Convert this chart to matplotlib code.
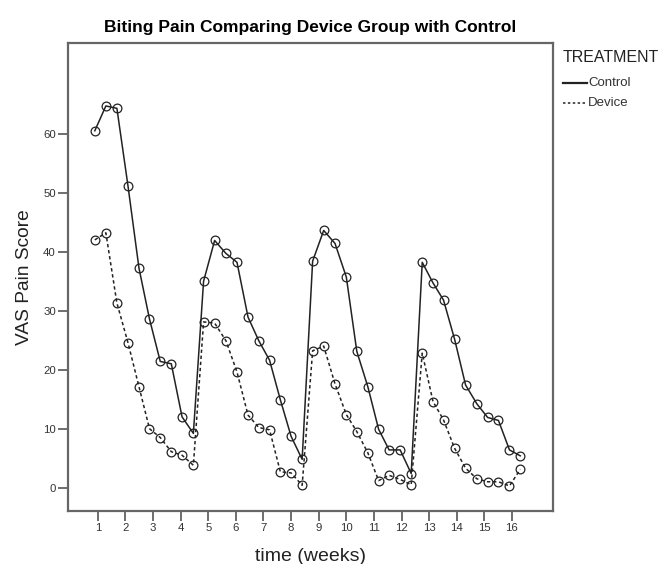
import matplotlib
matplotlib.use("Agg")
import matplotlib.pyplot as plt
from matplotlib.lines import Line2D

plt.rcParams["font.family"] = ["Liberation Sans", "DejaVu Sans"]

weeks = [0.89, 1.29, 1.69, 2.09, 2.49, 2.87, 3.26, 3.66, 4.05, 4.46,
         4.83, 5.23, 5.64, 6.04, 6.44, 6.83, 7.22, 7.61, 8.00, 8.40,
         8.78, 9.18, 9.59, 10.00, 10.38, 10.78, 11.17, 11.55, 11.95, 12.35,
         12.75, 13.14, 13.52, 13.92, 14.32, 14.73, 15.12, 15.51, 15.91, 16.30]

control = [60.6, 64.8, 64.4, 51.3, 37.3, 28.7, 21.5, 21.1, 12.1, 9.3,
           35.1, 42.0, 39.8, 38.3, 29.0, 25.0, 21.7, 15.0, 8.8, 4.9,
           38.5, 43.7, 41.5, 35.8, 23.2, 17.2, 10.0, 6.5, 6.5, 2.5,
           38.3, 34.8, 31.9, 25.3, 17.5, 14.3, 12.0, 11.5, 6.5, 5.5]

device = [42.1, 43.3, 31.4, 24.7, 17.2, 10.1, 8.6, 6.2, 5.6, 3.9,
          28.2, 28.0, 25.0, 19.7, 12.4, 10.3, 9.9, 2.8, 2.6, 0.5,
          23.3, 24.1, 17.7, 12.5, 9.6, 6.0, 1.3, 2.2, 1.5, 0.6,
          22.9, 14.7, 11.6, 6.8, 3.4, 1.6, 1.1, 1.1, 0.4, 3.2]

week_ticks = list(range(1, 17))
score_ticks = [0, 10, 20, 30, 40, 50, 60]

fig = plt.figure(figsize=(6.6, 5.64), dpi=100)
ax = fig.add_axes([0.1035, 0.094, 0.7337, 0.829])

line_col = "#222222"
dash = (0, (2.2, 1.8))
ax.plot(weeks, control, color=line_col, lw=1.1, ls="-")
ax.plot(weeks, device, color=line_col, lw=1.1, ls=dash)
ax.plot(weeks, control, ls="none", marker="o", ms=6.3, mfc="none", mec=line_col, mew=0.9)
ax.plot(weeks, device, ls="none", marker="o", ms=6.3, mfc="none", mec=line_col, mew=0.9)

ax.set_xlim(-0.07, 17.47)
ax.set_ylim(-3.85, 75.4)
ax.set_xticks(week_ticks)
ax.set_yticks(score_ticks)

for s in ax.spines.values():
    s.set_color("#666666")
    s.set_linewidth(1.6)
ax.tick_params(axis="both", direction="out", length=7, width=1.2, color="#555555",
               labelsize=8.2, labelcolor="#333333", pad=2)

ax.set_ylabel("VAS Pain Score", fontsize=13.8, color="#222222", labelpad=7)
fig.text(0.471, 0.014, "time (weeks)", fontsize=14, color="#222222", ha="center", va="center")

fig.text(0.4697, 0.952, "Biting Pain Comparing Device Group with Control",
         fontsize=12.5, fontweight="bold", ha="center", va="center")

# legend drawn by hand: title, then one short line sample per group
fig.text(563 / 660, 1 - 58 / 564, "TREATMENT", fontsize=11.5, color="#222222",
         ha="left", va="center")
groups = ["Control", "Device"]
styles = ["-", (0, (1.6, 1.6))]
rows = [83, 103]
for name, st, r in zip(groups, styles, rows):
    y = 1 - r / 564
    fig.add_artist(Line2D([563 / 660, 587 / 660], [y, y], color=line_col,
                          lw=1.6 if st == "-" else 1.1, ls=st))
    fig.text(588 / 660, y, name, fontsize=9.5, color="#333333", ha="left", va="center")

fig.savefig("out.png", dpi=100)
